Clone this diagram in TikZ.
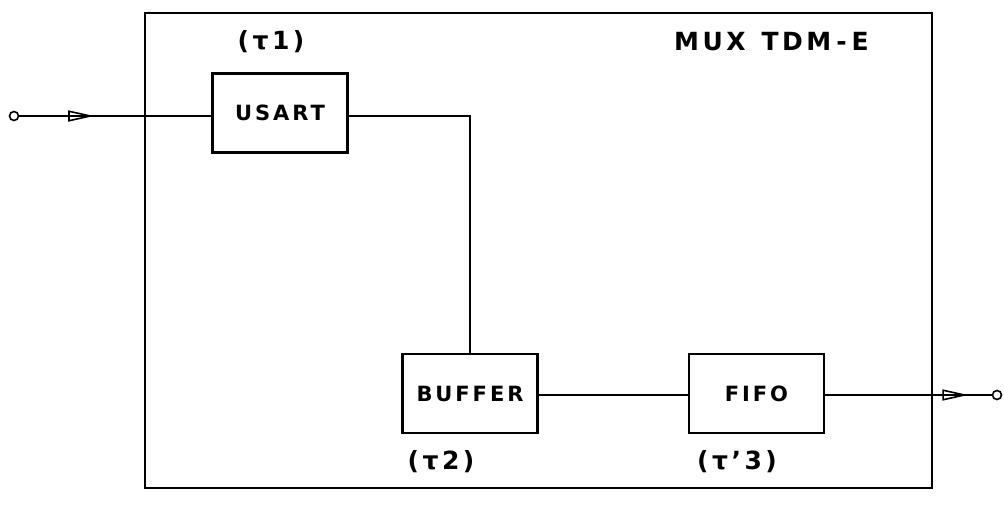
\documentclass[tikz,border=0pt]{standalone}
\usepackage{fontspec}
\setmainfont{DejaVu Sans}[LetterSpace=14]
\usetikzlibrary{arrows.meta,decorations.markings}
\begin{document}
\begin{tikzpicture}[x=1pt,y=-1pt,
  blk/.style={draw,line width=2.2pt,minimum width=135pt,minimum height=79pt,inner sep=0pt,font=\fontsize{21}{23}\selectfont\bfseries},
  lbl/.style={font=\fontsize{25}{27}\selectfont\bfseries,inner sep=0pt},
  wire/.style={line width=1.6pt},
  port/.style={circle,draw,line width=1.6pt,minimum size=9pt,inner sep=0pt,fill=white},
  midarrow/.style={postaction={decorate},decoration={markings,mark=at position #1 with {\arrow{Triangle[open,length=26pt,width=11pt,line width=1.6pt]}}}}
]
\useasboundingbox (0,0) rectangle (1004,517);
\node[draw,line width=2.2pt,minimum width=787pt,minimum height=475pt,inner sep=0pt] (mux) at (538.5,250.5) {};
\node[lbl,anchor=west] (title) at (674,42) {MUX\hspace{16pt}TDM\hspace{5pt}-\hspace{5pt}E};
\node[blk] (usart) at (280,113) {USART};
\node[blk] (buffer) at (470,393.5) {BUFFER};
\node[blk] (fifo) at (756.5,393.5) {FIFO};
\node[lbl] (t1) at (271,42) {(τ1)};
\node[lbl] (t2) at (441,462) {(τ2)};
\node[lbl] (t3) at (737,462) {(τ'3)};
\node[port] (in) at (14,116) {};
\node[port] (out) at (997,395) {};
\draw[wire,midarrow=0.39] (in.east) -- (usart.west |- in);
\draw[wire] (usart.east |- in) -| (buffer.north);
\draw[wire] (buffer.east |- out) -- (fifo.west |- out);
\draw[wire,midarrow=0.86] (fifo.east |- out) -- (out.west);
\end{tikzpicture}
\end{document}
